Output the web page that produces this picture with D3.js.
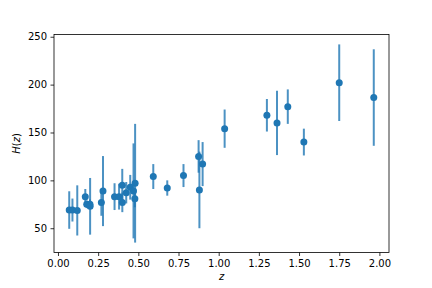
<!DOCTYPE html>
<html>
<head>
<meta charset="utf-8">
<script src="https://cdn.jsdelivr.net/npm/d3@7"></script>
<style>
  body { margin: 0; background: #fff; }
  text { font-family: "DejaVu Sans", sans-serif; }
</style>
</head>
<body>
<div id="chart"></div>
<script>
// cosmic chronometer H(z) measurements
const zVals = [0.07, 0.09, 0.12, 0.17, 0.179, 0.199, 0.2, 0.27, 0.28, 0.352, 0.3802, 0.4, 0.4004, 0.4247,
  0.4497, 0.47, 0.4783, 0.48, 0.593, 0.68, 0.781, 0.875, 0.88, 0.9, 1.037, 1.3, 1.363, 1.43, 1.53, 1.75, 1.965];
const hVals = [69, 69, 68.6, 83, 75, 75, 72.9, 77, 88.8, 83, 83, 95, 77, 87.1,
  92.8, 89, 80.9, 97, 104, 92, 105, 125, 90, 117, 154, 168, 160, 177, 140, 202, 186.5];
const hErr = [19.6, 12, 26.2, 8, 4, 5, 29.6, 14, 36.6, 14, 13.5, 17, 10.2, 11.2,
  12.9, 49.6, 9, 62, 13, 8, 12, 17, 40, 23, 20, 17, 33.6, 18, 14, 40, 50.4];
const xTicks = [0, 0.25, 0.5, 0.75, 1.0, 1.25, 1.5, 1.75, 2.0];
const yTicks = [50, 100, 150, 200, 250];

const width = 432, height = 288;
const margin = {left: 54, right: 43, top: 34.5, bottom: 35.5};
const color = "#1f77b4";

const svg = d3.select("#chart").append("svg")
  .attr("width", width).attr("height", height);

// matplotlib-like 5% padding
const xMin = d3.min(zVals), xMax = d3.max(zVals);
const xPad = (xMax - xMin) * 0.05;
const lo = d3.min(hVals, (d, i) => d - hErr[i]);
const hi = d3.max(hVals, (d, i) => d + hErr[i]);
const yPad = (hi - lo) * 0.05;

const x = d3.scaleLinear().domain([xMin - xPad, xMax + xPad])
  .range([margin.left, width - margin.right]);
const y = d3.scaleLinear().domain([lo - yPad, hi + yPad])
  .range([height - margin.bottom, margin.top]);

const pts = zVals.map((z, i) => ({z: z, h: hVals[i], e: hErr[i]}));

// error bars
svg.append("g").selectAll("line")
  .data(pts).enter().append("line")
  .attr("x1", d => x(d.z)).attr("x2", d => x(d.z))
  .attr("y1", d => y(d.h - d.e)).attr("y2", d => y(d.h + d.e))
  .attr("stroke", color).attr("stroke-opacity", 0.8)
  .attr("stroke-width", 2);

// markers
svg.append("g").selectAll("circle")
  .data(pts).enter().append("circle")
  .attr("cx", d => x(d.z)).attr("cy", d => y(d.h))
  .attr("r", 3.5)
  .attr("fill", color);

// axes
const xAxis = svg.append("g")
  .attr("transform", `translate(0,${height - margin.bottom})`)
  .call(d3.axisBottom(x).tickValues(xTicks).tickFormat(d3.format(".2f")).tickSize(3.5).tickPadding(3.5));
const yAxis = svg.append("g")
  .attr("transform", `translate(${margin.left},0)`)
  .call(d3.axisLeft(y).tickValues(yTicks).tickFormat(d3.format("d")).tickSize(3.5).tickPadding(3.5));

[xAxis, yAxis].forEach(a => {
  a.select(".domain").remove();
  a.selectAll(".tick line").attr("stroke", "#000").attr("stroke-width", 0.8);
  a.selectAll(".tick text").attr("fill", "#000").style("font-size", "10px")
    .style("font-family", "DejaVu Sans, sans-serif");
});

// frame
svg.append("rect")
  .attr("x", margin.left).attr("y", margin.top)
  .attr("width", width - margin.left - margin.right)
  .attr("height", height - margin.top - margin.bottom)
  .attr("fill", "none").attr("stroke", "#000").attr("stroke-width", 0.8);

// labels
svg.append("text")
  .attr("x", (margin.left + width - margin.right) / 2)
  .attr("y", 280)
  .attr("text-anchor", "middle")
  .style("font-size", "10px").style("font-style", "italic")
  .text("z");

svg.append("text")
  .attr("transform", `translate(20,${(margin.top + height - margin.bottom) / 2}) rotate(-90)`)
  .attr("text-anchor", "middle")
  .style("font-size", "10px")
  .call(t => {
    t.append("tspan").style("font-style", "italic").text("H");
    t.append("tspan").text("(");
    t.append("tspan").style("font-style", "italic").text("z");
    t.append("tspan").text(")");
  });
</script>
</body>
</html>
